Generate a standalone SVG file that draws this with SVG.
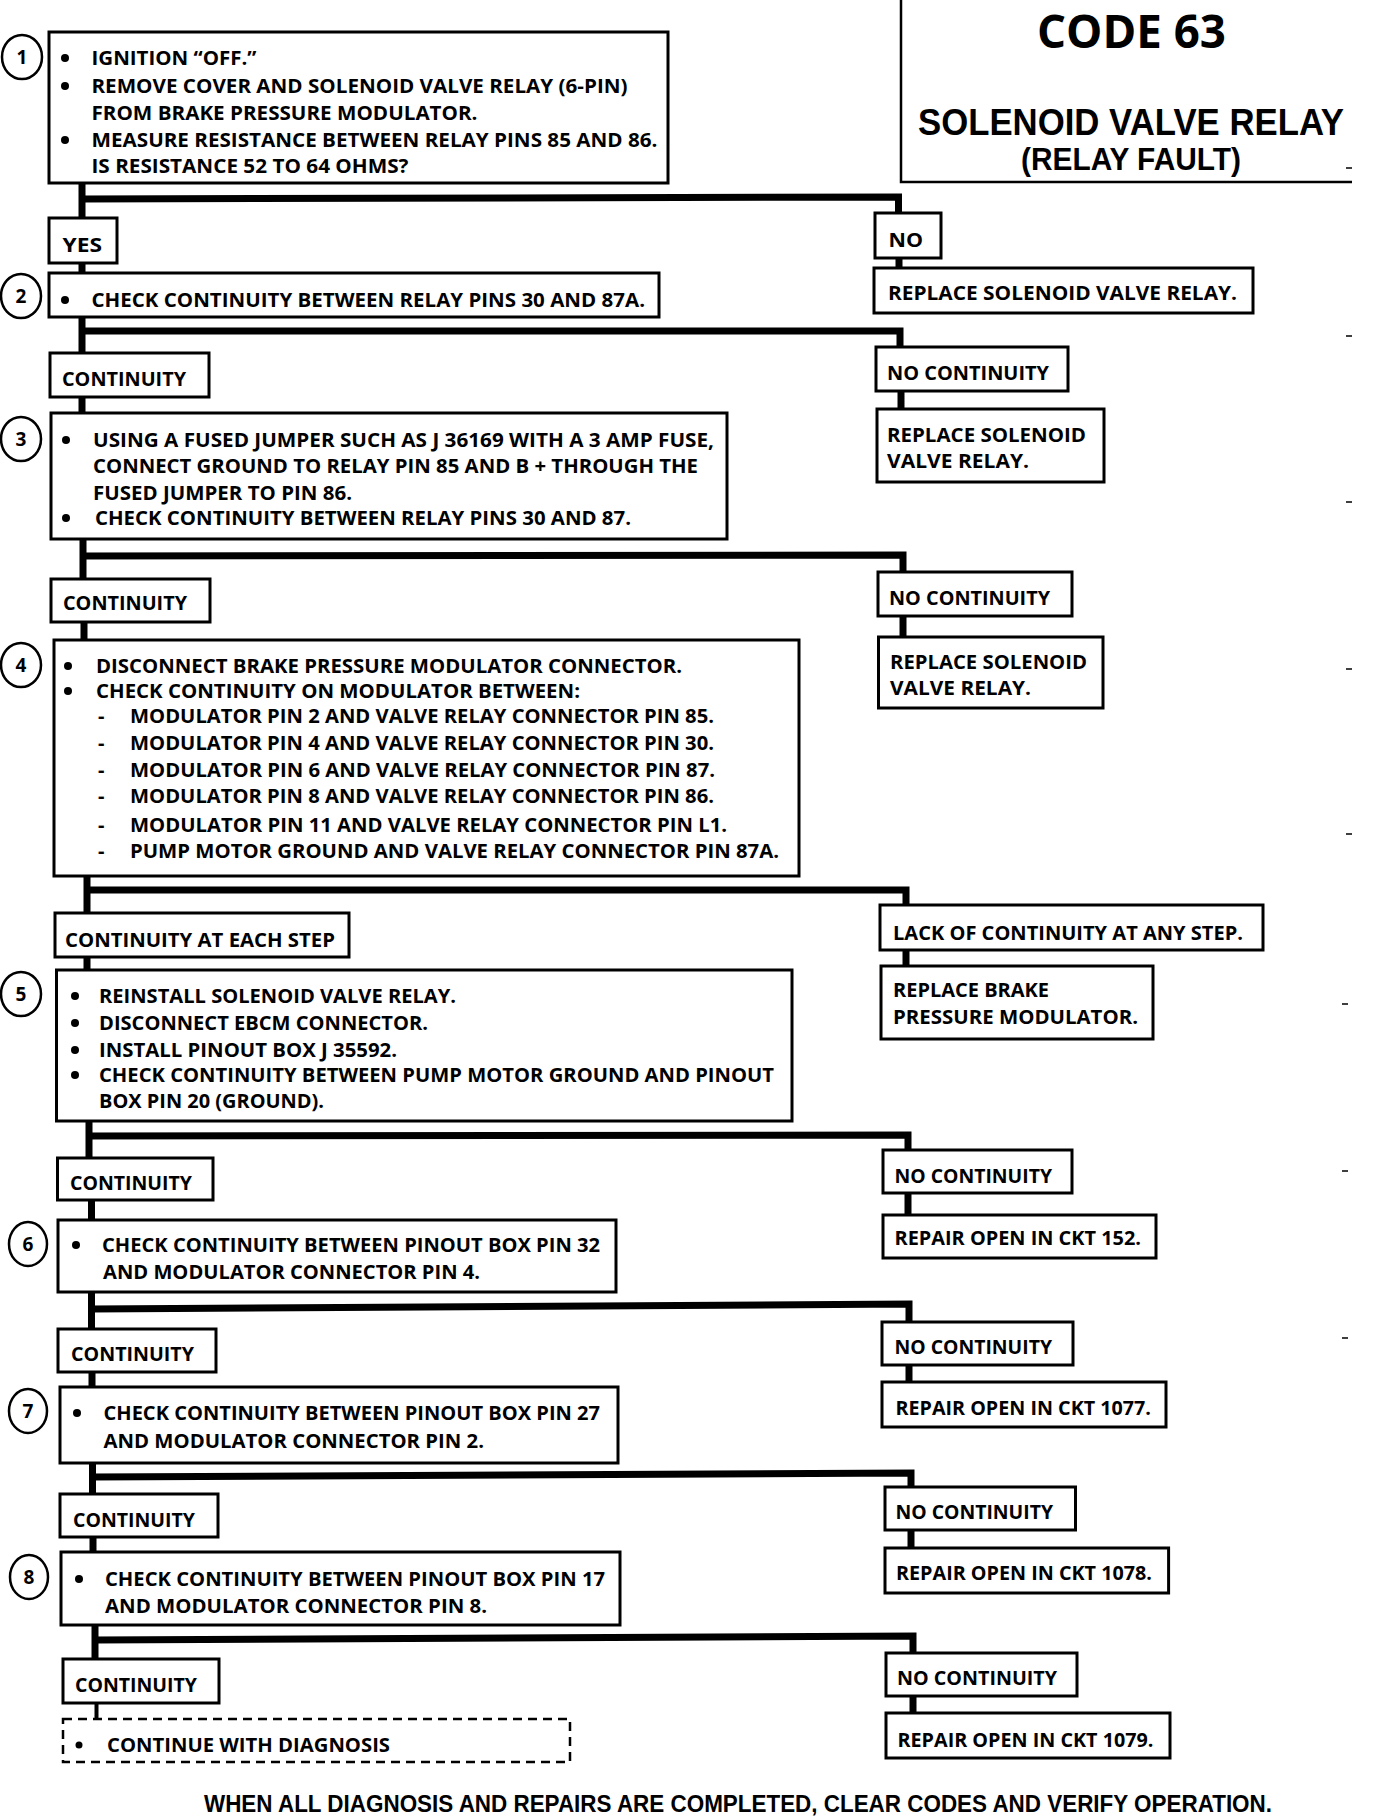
<svg xmlns="http://www.w3.org/2000/svg" width="1376" height="1816" viewBox="0 0 1376 1816">
<style>
.b{fill:#fff;stroke:#000;stroke-width:3}
.d{fill:#fff;stroke:#000;stroke-width:2.5;stroke-dasharray:9 6}
.c{fill:none;stroke:#000;stroke-width:7;stroke-linejoin:miter}
.c2{fill:none;stroke:#000;stroke-width:4}
.o{fill:#fff;stroke:#000;stroke-width:2.5}
.t{font-family:"Open Sans","Liberation Sans",sans-serif;font-weight:700;font-size:20px;fill:#000}
.n{font-family:"Open Sans","Liberation Sans",sans-serif;font-weight:700;font-size:19px;fill:#000;text-anchor:middle}
.h{font-family:"Open Sans","Liberation Sans",sans-serif;font-weight:700;fill:#000}
.s{font-family:"Liberation Sans",sans-serif;font-weight:700;fill:#000}
.f{font-family:"Liberation Sans",sans-serif;font-weight:700;font-size:23px;fill:#000}
.m{stroke:#000;stroke-width:1.5}
</style>
<rect width="1376" height="1816" fill="#fff"/>

<g id="connectors">
  <path class="c" d="M82 183V218M82 263V273"/>
  <polyline class="c" points="82,199 898.5,197 898.5,213"/>
  <path class="c" d="M899 258V268"/>
  <path class="c" d="M82 317V353M82 397V413"/>
  <polyline class="c" points="82,331 900,331 900,347"/>
  <path class="c" d="M901 391V409"/>
  <path class="c" d="M83 539V579M84 622V640"/>
  <polyline class="c" points="83,556 903,555 903,572"/>
  <path class="c" d="M903 616V637"/>
  <path class="c" d="M87 876V913M87 957V970"/>
  <polyline class="c" points="87,890 906,890 906,905"/>
  <path class="c" d="M906 950V966"/>
  <path class="c" d="M89 1121V1158M91.5 1200V1220"/>
  <polyline class="c" points="89,1136 908,1135 908,1150"/>
  <path class="c" d="M908 1193V1215"/>
  <path class="c" d="M91.5 1292V1329M92 1372V1387"/>
  <polyline class="c" points="91.5,1309 909,1304 909,1322"/>
  <path class="c" d="M909 1365V1382"/>
  <path class="c" d="M92.5 1463V1494M93 1537V1552"/>
  <polyline class="c" points="92.5,1477 911,1473 911,1487"/>
  <path class="c" d="M911 1530V1548"/>
  <path class="c" d="M95 1625V1659"/>
  <polyline class="c" points="95,1640 913,1636 913,1653"/>
  <path class="c" d="M913 1696V1713"/>
  <path class="c2" d="M96.5 1703V1719"/>
</g>

<g id="header">
  <path d="M901 0V182H1352" fill="none" stroke="#000" stroke-width="2.5"/>
  <text class="h" x="1037" y="48" font-size="46" textLength="189" lengthAdjust="spacingAndGlyphs">CODE 63</text>
  <text class="s" x="918" y="135" font-size="36" textLength="426" lengthAdjust="spacingAndGlyphs">SOLENOID VALVE RELAY</text>
  <text class="s" x="1021" y="170" font-size="31" textLength="220" lengthAdjust="spacingAndGlyphs">(RELAY FAULT)</text>
</g>

<g id="marks">
  <path class="m" d="M1346 168H1352M1346 336H1352M1346 502H1352M1346 669H1352M1346 834H1352M1342 1004H1348M1342 1171H1348M1342 1338H1348"/>
</g>

<g id="step1">
  <ellipse class="o" cx="22" cy="57" rx="20" ry="22"/>
  <text class="n" x="22" y="64">1</text>
  <rect class="b" x="49" y="32" width="619" height="151"/>
  <circle cx="65" cy="58" r="4"/>
  <circle cx="65" cy="86" r="4"/>
  <circle cx="65" cy="140" r="4"/>
  <text class="t" x="91.5" y="65" textLength="165" lengthAdjust="spacingAndGlyphs">IGNITION “OFF.”</text>
  <text class="t" x="91.5" y="93" textLength="536" lengthAdjust="spacingAndGlyphs">REMOVE COVER AND SOLENOID VALVE RELAY (6-PIN)</text>
  <text class="t" x="91.5" y="120" textLength="386" lengthAdjust="spacingAndGlyphs">FROM BRAKE PRESSURE MODULATOR.</text>
  <text class="t" x="91.5" y="147" textLength="566" lengthAdjust="spacingAndGlyphs">MEASURE RESISTANCE BETWEEN RELAY PINS 85 AND 86.</text>
  <text class="t" x="91.5" y="173" textLength="317" lengthAdjust="spacingAndGlyphs">IS RESISTANCE 52 TO 64 OHMS?</text>
</g>

<g id="yes">
  <rect class="b" x="49" y="218" width="68" height="45"/>
  <text class="t" x="62.5" y="252" textLength="39.5" lengthAdjust="spacingAndGlyphs">YES</text>
</g>
<g id="no">
  <rect class="b" x="875" y="213" width="66" height="45"/>
  <text class="t" x="888.5" y="247" textLength="34.5" lengthAdjust="spacingAndGlyphs">NO</text>
</g>
<g id="replace1">
  <rect class="b" x="874" y="268" width="379" height="45"/>
  <text class="t" x="888" y="300" textLength="349" lengthAdjust="spacingAndGlyphs">REPLACE  SOLENOID VALVE RELAY.</text>
</g>

<g id="step2">
  <ellipse class="o" cx="21" cy="296" rx="20" ry="22"/>
  <text class="n" x="21" y="303">2</text>
  <rect class="b" x="49" y="273" width="610" height="44"/>
  <circle cx="65" cy="300" r="4"/>
  <text class="t" x="91.5" y="307" textLength="553.5" lengthAdjust="spacingAndGlyphs">CHECK CONTINUITY BETWEEN RELAY PINS 30 AND 87A.</text>
</g>

<g id="cont2">
  <rect class="b" x="50" y="353" width="159" height="44"/>
  <text class="t" x="62" y="386" textLength="124" lengthAdjust="spacingAndGlyphs">CONTINUITY</text>
</g>
<g id="nocont2">
  <rect class="b" x="876" y="347" width="192" height="44"/>
  <text class="t" x="887" y="380" textLength="162" lengthAdjust="spacingAndGlyphs">NO CONTINUITY</text>
</g>
<g id="replace2">
  <rect class="b" x="877" y="409" width="227" height="73"/>
  <text class="t" x="887" y="442" textLength="199" lengthAdjust="spacingAndGlyphs">REPLACE SOLENOID</text>
  <text class="t" x="887" y="468" textLength="142" lengthAdjust="spacingAndGlyphs">VALVE RELAY.</text>
</g>

<g id="step3">
  <ellipse class="o" cx="21" cy="439" rx="20" ry="22"/>
  <text class="n" x="21" y="446">3</text>
  <rect class="b" x="51" y="413" width="676" height="126"/>
  <circle cx="66" cy="440" r="4"/>
  <circle cx="66" cy="518" r="4"/>
  <text class="t" x="93" y="447" textLength="621" lengthAdjust="spacingAndGlyphs">USING A FUSED JUMPER SUCH AS J 36169 WITH A 3 AMP FUSE,</text>
  <text class="t" x="93" y="473" textLength="605" lengthAdjust="spacingAndGlyphs">CONNECT GROUND TO RELAY PIN 85 AND B +  THROUGH THE</text>
  <text class="t" x="93" y="500" textLength="259" lengthAdjust="spacingAndGlyphs">FUSED JUMPER TO PIN 86.</text>
  <text class="t" x="95" y="525" textLength="536" lengthAdjust="spacingAndGlyphs">CHECK CONTINUITY BETWEEN RELAY PINS 30 AND 87.</text>
</g>

<g id="cont3">
  <rect class="b" x="51" y="579" width="159" height="43"/>
  <text class="t" x="63" y="610" textLength="124" lengthAdjust="spacingAndGlyphs">CONTINUITY</text>
</g>
<g id="nocont3">
  <rect class="b" x="878" y="572" width="194" height="44"/>
  <text class="t" x="889" y="605" textLength="161" lengthAdjust="spacingAndGlyphs">NO CONTINUITY</text>
</g>
<g id="replace3">
  <rect class="b" x="878.5" y="637" width="224.5" height="71"/>
  <text class="t" x="890" y="669" textLength="197" lengthAdjust="spacingAndGlyphs">REPLACE SOLENOID</text>
  <text class="t" x="890" y="695" textLength="141" lengthAdjust="spacingAndGlyphs">VALVE RELAY.</text>
</g>

<g id="step4">
  <ellipse class="o" cx="21" cy="665" rx="20" ry="22"/>
  <text class="n" x="21" y="672">4</text>
  <rect class="b" x="54" y="640" width="745" height="236"/>
  <circle cx="68" cy="666" r="4"/>
  <circle cx="68" cy="691" r="4"/>
  <text class="t" x="96" y="673" textLength="586" lengthAdjust="spacingAndGlyphs">DISCONNECT BRAKE PRESSURE MODULATOR CONNECTOR.</text>
  <text class="t" x="96" y="698" textLength="484" lengthAdjust="spacingAndGlyphs">CHECK CONTINUITY ON MODULATOR BETWEEN:</text>
  <text class="t" x="98" y="723">-</text>
  <text class="t" x="98" y="750">-</text>
  <text class="t" x="98" y="777">-</text>
  <text class="t" x="98" y="803">-</text>
  <text class="t" x="98" y="832">-</text>
  <text class="t" x="98" y="858">-</text>
  <text class="t" x="130" y="723" textLength="584" lengthAdjust="spacingAndGlyphs">MODULATOR PIN 2 AND VALVE RELAY CONNECTOR PIN 85.</text>
  <text class="t" x="130" y="750" textLength="584" lengthAdjust="spacingAndGlyphs">MODULATOR PIN 4 AND VALVE RELAY CONNECTOR PIN 30.</text>
  <text class="t" x="130" y="777" textLength="585" lengthAdjust="spacingAndGlyphs">MODULATOR PIN 6 AND VALVE RELAY CONNECTOR PIN 87.</text>
  <text class="t" x="130" y="803" textLength="584" lengthAdjust="spacingAndGlyphs">MODULATOR PIN 8 AND VALVE RELAY CONNECTOR PIN 86.</text>
  <text class="t" x="130" y="832" textLength="597" lengthAdjust="spacingAndGlyphs">MODULATOR PIN 11 AND VALVE RELAY CONNECTOR PIN L1.</text>
  <text class="t" x="130" y="858" textLength="649" lengthAdjust="spacingAndGlyphs">PUMP MOTOR GROUND AND VALVE RELAY CONNECTOR PIN 87A.</text>
</g>

<g id="cont4">
  <rect class="b" x="55" y="913" width="294" height="44"/>
  <text class="t" x="65" y="947" textLength="270" lengthAdjust="spacingAndGlyphs">CONTINUITY AT EACH STEP</text>
</g>
<g id="lack4">
  <rect class="b" x="880" y="905" width="383" height="45"/>
  <text class="t" x="893" y="940" textLength="350" lengthAdjust="spacingAndGlyphs">LACK OF CONTINUITY AT ANY STEP.</text>
</g>
<g id="replace4">
  <rect class="b" x="881" y="966" width="272" height="73"/>
  <text class="t" x="893" y="997" textLength="156" lengthAdjust="spacingAndGlyphs">REPLACE BRAKE</text>
  <text class="t" x="893" y="1024" textLength="245" lengthAdjust="spacingAndGlyphs">PRESSURE MODULATOR.</text>
</g>

<g id="step5">
  <ellipse class="o" cx="21" cy="994" rx="20" ry="22"/>
  <text class="n" x="21" y="1001">5</text>
  <rect class="b" x="56.5" y="970" width="735.5" height="151"/>
  <circle cx="75" cy="996" r="4"/>
  <circle cx="75" cy="1023" r="4"/>
  <circle cx="75" cy="1050" r="4"/>
  <circle cx="75" cy="1075" r="4"/>
  <text class="t" x="99" y="1003" textLength="357" lengthAdjust="spacingAndGlyphs">REINSTALL SOLENOID VALVE RELAY.</text>
  <text class="t" x="99" y="1030" textLength="329" lengthAdjust="spacingAndGlyphs">DISCONNECT EBCM CONNECTOR.</text>
  <text class="t" x="99" y="1057" textLength="298" lengthAdjust="spacingAndGlyphs">INSTALL PINOUT BOX J 35592.</text>
  <text class="t" x="99" y="1082" textLength="675" lengthAdjust="spacingAndGlyphs">CHECK CONTINUITY BETWEEN PUMP MOTOR GROUND AND PINOUT</text>
  <text class="t" x="99" y="1108" textLength="225" lengthAdjust="spacingAndGlyphs">BOX PIN 20 (GROUND).</text>
</g>

<g id="cont5">
  <rect class="b" x="57.5" y="1158" width="155.5" height="42"/>
  <text class="t" x="70" y="1190" textLength="122" lengthAdjust="spacingAndGlyphs">CONTINUITY</text>
</g>
<g id="nocont5">
  <rect class="b" x="883" y="1150" width="189" height="43"/>
  <text class="t" x="894.5" y="1183" textLength="157.5" lengthAdjust="spacingAndGlyphs">NO CONTINUITY</text>
</g>
<g id="repair152">
  <rect class="b" x="883" y="1215" width="273" height="43"/>
  <text class="t" x="894.5" y="1245" textLength="246.5" lengthAdjust="spacingAndGlyphs">REPAIR OPEN IN CKT 152.</text>
</g>

<g id="step6">
  <ellipse class="o" cx="28" cy="1244" rx="19" ry="22"/>
  <text class="n" x="28" y="1251">6</text>
  <rect class="b" x="58" y="1220" width="558" height="72"/>
  <circle cx="76" cy="1245" r="4"/>
  <text class="t" x="102" y="1252" textLength="498" lengthAdjust="spacingAndGlyphs">CHECK CONTINUITY BETWEEN PINOUT BOX PIN 32</text>
  <text class="t" x="103" y="1279" textLength="377" lengthAdjust="spacingAndGlyphs">AND MODULATOR CONNECTOR PIN 4.</text>
</g>

<g id="cont6">
  <rect class="b" x="58" y="1329" width="158" height="43"/>
  <text class="t" x="71" y="1361" textLength="123" lengthAdjust="spacingAndGlyphs">CONTINUITY</text>
</g>
<g id="nocont6">
  <rect class="b" x="882" y="1322" width="191" height="43"/>
  <text class="t" x="894.5" y="1354" textLength="157.5" lengthAdjust="spacingAndGlyphs">NO CONTINUITY</text>
</g>
<g id="repair1077">
  <rect class="b" x="882" y="1382" width="284" height="45"/>
  <text class="t" x="895.5" y="1415" textLength="255.5" lengthAdjust="spacingAndGlyphs">REPAIR OPEN IN CKT 1077.</text>
</g>

<g id="step7">
  <ellipse class="o" cx="28" cy="1411" rx="19" ry="22"/>
  <text class="n" x="28" y="1418">7</text>
  <rect class="b" x="60" y="1387" width="558" height="76"/>
  <circle cx="77" cy="1413" r="4"/>
  <text class="t" x="103.5" y="1420" textLength="496.5" lengthAdjust="spacingAndGlyphs">CHECK CONTINUITY BETWEEN PINOUT BOX PIN 27</text>
  <text class="t" x="103.5" y="1448" textLength="380.5" lengthAdjust="spacingAndGlyphs">AND MODULATOR CONNECTOR PIN 2.</text>
</g>

<g id="cont7">
  <rect class="b" x="60" y="1494" width="158" height="43"/>
  <text class="t" x="73" y="1527" textLength="122" lengthAdjust="spacingAndGlyphs">CONTINUITY</text>
</g>
<g id="nocont7">
  <rect class="b" x="885" y="1487" width="190.5" height="43"/>
  <text class="t" x="895.5" y="1519" textLength="157.5" lengthAdjust="spacingAndGlyphs">NO CONTINUITY</text>
</g>
<g id="repair1078">
  <rect class="b" x="885" y="1548" width="283.6" height="45"/>
  <text class="t" x="896" y="1580" textLength="256" lengthAdjust="spacingAndGlyphs">REPAIR OPEN IN CKT 1078.</text>
</g>

<g id="step8">
  <ellipse class="o" cx="29" cy="1577" rx="19" ry="22"/>
  <text class="n" x="29" y="1584">8</text>
  <rect class="b" x="61" y="1552" width="559" height="73"/>
  <circle cx="79" cy="1579" r="4"/>
  <text class="t" x="105" y="1586" textLength="500" lengthAdjust="spacingAndGlyphs">CHECK CONTINUITY BETWEEN PINOUT BOX PIN 17</text>
  <text class="t" x="105" y="1613" textLength="382" lengthAdjust="spacingAndGlyphs">AND MODULATOR CONNECTOR PIN 8.</text>
</g>

<g id="cont8">
  <rect class="b" x="63" y="1659" width="156" height="44"/>
  <text class="t" x="75" y="1692" textLength="122" lengthAdjust="spacingAndGlyphs">CONTINUITY</text>
</g>
<g id="nocont8">
  <rect class="b" x="886" y="1653" width="191" height="43"/>
  <text class="t" x="897" y="1685" textLength="160" lengthAdjust="spacingAndGlyphs">NO CONTINUITY</text>
</g>
<g id="repair1079">
  <rect class="b" x="886" y="1713" width="284" height="45"/>
  <text class="t" x="897.5" y="1747" textLength="256" lengthAdjust="spacingAndGlyphs">REPAIR OPEN IN CKT 1079.</text>
</g>

<g id="continue">
  <rect class="d" x="63" y="1719" width="507" height="43"/>
  <circle cx="79" cy="1745" r="3.5"/>
  <text class="t" x="107" y="1752" textLength="283" lengthAdjust="spacingAndGlyphs">CONTINUE WITH DIAGNOSIS</text>
</g>

<g id="footer">
  <text class="f" x="204" y="1812" textLength="1068" lengthAdjust="spacingAndGlyphs">WHEN ALL DIAGNOSIS AND REPAIRS ARE COMPLETED, CLEAR CODES AND VERIFY OPERATION.</text>
</g>
</svg>
